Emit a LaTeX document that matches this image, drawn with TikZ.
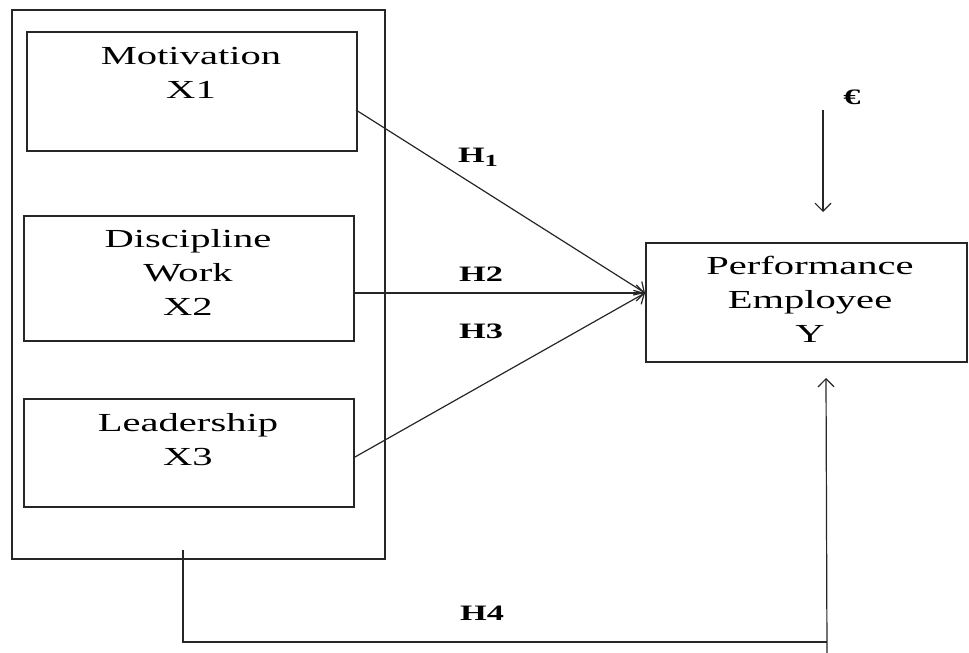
\documentclass[tikz,border=0pt]{standalone}
\usepackage{fontspec}
\setmainfont{Liberation Serif}[FakeStretch=1.56]
\usetikzlibrary{arrows.meta}
\tikzset{
  varbox/.style={draw, line width=1.4pt, draw=black!85, inner sep=0pt},
  boxtext/.style={align=center, inner sep=0pt, font=\fontsize{26}{34}\selectfont},
  hlabel/.style={inner sep=0pt, font=\fontsize{22}{22}\selectfont\bfseries},
  conn/.style={line width=1.2pt, draw=black!85},
  arr/.style={line width=1.2pt, draw=black!85, -{Straight Barb[length=8pt,width=16pt]}},
}
\begin{document}
\begin{tikzpicture}[x=1pt,y=-1pt]
\useasboundingbox (0,0) rectangle (969,653);
% outer group box
\node[varbox, minimum width=373, minimum height=549] (grp) at (198.5,284.5) {};
% variable boxes
\node[varbox, minimum width=330, minimum height=119] (x1) at (192,91.5) {};
\node[varbox, minimum width=330, minimum height=125] (x2) at (189,278.5) {};
\node[varbox, minimum width=330, minimum height=108] (x3) at (189,453) {};
\node[varbox, minimum width=321, minimum height=119] (y) at (806.5,302.5) {};
% texts
\node[boxtext] (x1t) at (191,72.5) {Motivation\\X1};
\node[boxtext] (x2t) at (188,272.5) {Discipline\\Work\\X2};
\node[boxtext] (x3t) at (188,439.5) {Leadership\\X3};
\node[boxtext] (yt) at (810,299.5) {Performance\\Employee\\Y};
% connector points
\coordinate (s1) at (356,110);
\coordinate (s2) at (353,293);
\coordinate (s3) at (355,457);
\coordinate (t) at (645,293);
\draw[arr] (s1) -- (t);
\draw[arr] (s2) -- (t);
\draw[arr] (s3) -- (t);
% error term
\node[hlabel] (eps) at (852,97) {€};
\coordinate (e1) at (823,110);
\coordinate (e2) at (823,212);
\draw[arr] (e1) -- (e2);
% H4 path
\coordinate (g1) at (183,550);
\coordinate (g2) at (827,642);
\coordinate (g3) at (827,653);
\coordinate (g4) at (826,378);
\draw[conn] (g1) |- (g2);
\draw[arr] (g3) -- (g4);
% labels
\node[hlabel] (h1) at (478,157) {H\raisebox{-4pt}{\fontsize{17}{17}\selectfont 1}};
\node[hlabel] (h2) at (481,274) {H2};
\node[hlabel] (h3) at (481,331) {H3};
\node[hlabel] (h4) at (482,613) {H4};
\end{tikzpicture}
\end{document}
